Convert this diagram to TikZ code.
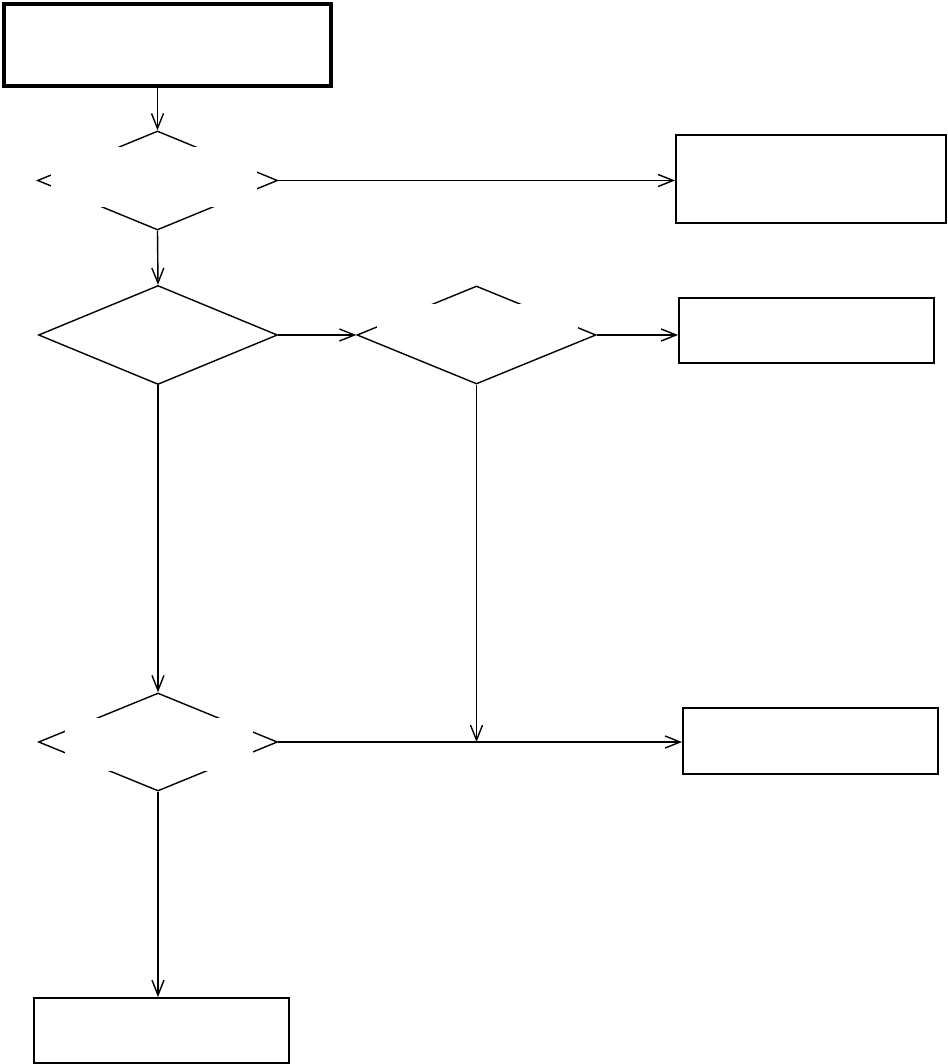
\documentclass[tikz,border=0pt]{standalone}
\usetikzlibrary{shapes.geometric,arrows.meta}
\begin{document}
\begin{tikzpicture}[x=1pt,y=-1pt,
  box/.style={draw,rectangle,line width=1.6pt,inner sep=0pt,anchor=north west},
  dec/.style={draw,diamond,line width=1.4pt,inner sep=0pt},
  mask/.style={fill=white,rectangle,inner sep=0pt,anchor=north west},
  conn/.style={line width=1.4pt,-{Straight Barb[length=15pt,width=12pt,line width=1.4pt]}}]
\useasboundingbox (0,0) rectangle (947,1064);
% boxes
\node[box,line width=4pt,minimum width=327pt,minimum height=82pt] (start) at (2,2) {};
\node[box,minimum width=270pt,minimum height=88pt] (out1) at (675,134) {};
\node[box,minimum width=255pt,minimum height=65pt] (out2) at (678,297) {};
\node[box,minimum width=255pt,minimum height=66pt] (out3) at (682,707) {};
\node[box,minimum width=255pt,minimum height=65pt] (out4) at (33,997) {};
% decisions
\node[dec,minimum width=240pt,minimum height=99pt] (d1) at (157.5,180.5) {};
\node[dec,minimum width=239pt,minimum height=99pt] (d2) at (158,335) {};
\node[dec,minimum width=239pt,minimum height=98pt] (d3) at (476.5,335) {};
\node[dec,minimum width=239pt,minimum height=98pt] (d4) at (158,742) {};
% empty label areas covering the decisions
\node[mask,minimum width=206pt,minimum height=60pt] (t1) at (51,147) {};
\node[mask,minimum width=201pt,minimum height=26pt] (t3) at (377,304) {};
\node[mask,minimum width=188pt,minimum height=53pt] (t4) at (65,718) {};
% connectors
\coordinate (j) at (d3.south |- d4.east);
\draw[conn] (d1.north |- start.south) -- (d1.north);
\draw[conn] (d1.east) -- (d1.east -| out1.west);
\draw[conn] (d1.south) -- (d2.north);
\draw[conn] (d2.east) -- (d3.west);
\draw[conn] (d3.east) -- (d3.east -| out2.west);
\draw[conn] (d2.south) -- (d4.north);
\draw[conn] (d4.east) -- (d4.east -| out3.west);
\draw[conn] (d3.south) -- (j);
\draw[conn] (d4.south) -- (d4.south |- out4.north);
\end{tikzpicture}
\end{document}
